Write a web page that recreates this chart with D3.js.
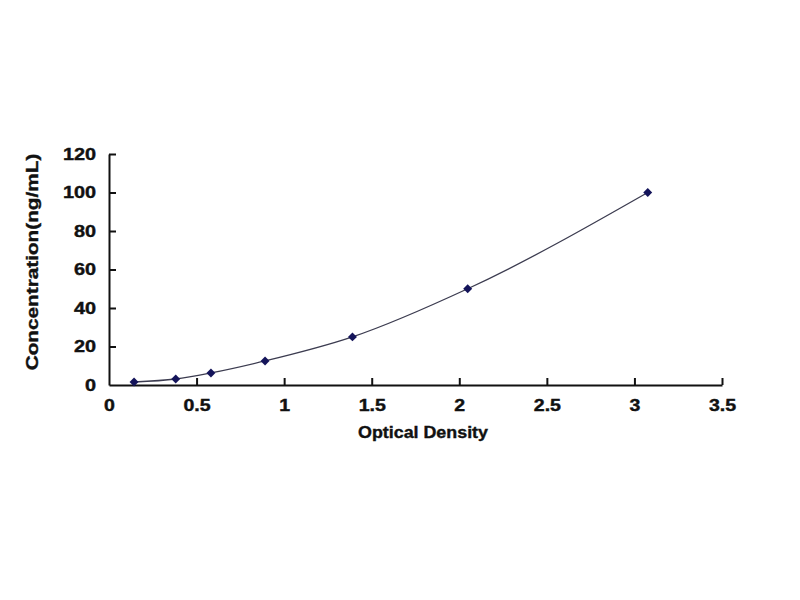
<!DOCTYPE html>
<html>
<head>
<meta charset="utf-8">
<script src="https://cdn.jsdelivr.net/npm/d3@7"></script>
<style>
  body { margin: 0; background: #fff; }
  text { font-family: "Liberation Sans", Arial, sans-serif; font-weight: bold; fill: #111; }
</style>
</head>
<body>
<div id="chart-area"></div>
<script>
// standard curve readings
var opticalDensity = [0.143, 0.381, 0.582, 0.891, 1.390, 2.048, 3.076];
var concentration = [1.56, 3.12, 6.25, 12.5, 25, 50, 100];
var xTicks = [0, 0.5, 1, 1.5, 2, 2.5, 3, 3.5];
var yTicks = [0, 20, 40, 60, 80, 100, 120];

var svgWidth = 800, svgHeight = 600;
var margin = { top: 154, right: 78, bottom: 215, left: 109 };
var chartWidth = svgWidth - margin.left - margin.right;
var chartHeight = svgHeight - margin.top - margin.bottom;

var svg = d3.select("#chart-area")
    .append("svg")
    .attr("width", svgWidth)
    .attr("height", svgHeight);

var chartGroup = svg.append("g")
    .attr("transform", "translate(" + margin.left + "," + margin.top + ")");

var xScale = d3.scaleLinear().domain([0, 3.5]).range([0, chartWidth]);
var yScale = d3.scaleLinear().domain([0, 120]).range([chartHeight, 0]);

// stretch text a bit like the original
function widen(sel, k) {
    sel.each(function() {
        var w = this.getComputedTextLength();
        d3.select(this).attr("textLength", w * k).attr("lengthAdjust", "spacingAndGlyphs");
    });
}

var leftAxis = d3.axisLeft(yScale)
    .tickValues(yTicks)
    .tickSizeInner(-7)
    .tickSizeOuter(0)
    .tickPadding(13)
    .tickFormat(d3.format("d"));

var botAxis = d3.axisBottom(xScale)
    .tickValues(xTicks)
    .tickSizeInner(-7)
    .tickSizeOuter(0)
    .tickPadding(15)
    .tickFormat(function(d) { return String(d); });

var yAxisG = chartGroup.append("g").call(leftAxis);
var xAxisG = chartGroup.append("g")
    .attr("transform", "translate(0," + chartHeight + ")")
    .call(botAxis);

[yAxisG, xAxisG].forEach(function(g) {
    g.select(".domain").attr("stroke", "#111").attr("stroke-width", 2);
    g.selectAll(".tick line").attr("stroke", "#111").attr("stroke-width", 2);
    g.selectAll(".tick text")
        .attr("font-family", "Liberation Sans, Arial, sans-serif")
        .attr("font-weight", "bold")
        .attr("font-size", 16)
        .attr("fill", "#111")
        .attr("stroke", "#111")
        .attr("stroke-width", 0.4);
});
xAxisG.selectAll(".tick").filter(function(d) { return d === 0; }).select("line").remove();
yAxisG.selectAll(".tick").filter(function(d) { return d === 0; }).select("line").remove();
widen(yAxisG.selectAll(".tick text"), 1.24);
widen(xAxisG.selectAll(".tick text"), 1.22);

var points = opticalDensity.map(function(x, i) { return { x: x, y: concentration[i] }; });

var line = d3.line()
    .x(function(d) { return xScale(d.x); })
    .y(function(d) { return yScale(d.y); })
    .curve(d3.curveMonotoneX);

chartGroup.append("path")
    .datum(points)
    .attr("d", line)
    .attr("fill", "none")
    .attr("stroke", "#3c3c50")
    .attr("stroke-width", 1.3);

chartGroup.selectAll(".marker")
    .data(points)
    .enter()
    .append("path")
    .attr("class", "marker")
    .attr("d", d3.symbol().type(d3.symbolSquare).size(40))
    .attr("transform", function(d) { return "translate(" + xScale(d.x) + "," + yScale(d.y) + ") rotate(45)"; })
    .attr("fill", "#14145a");

// axis titles
var xTitle = svg.append("text")
    .attr("x", 423)
    .attr("y", 438)
    .attr("text-anchor", "middle")
    .attr("font-size", 17)
    .attr("stroke", "#111")
    .attr("stroke-width", 0.4)
    .text("Optical Density");
widen(xTitle, 1.05);

var yTitle = svg.append("text")
    .attr("transform", "translate(38,262) rotate(-90)")
    .attr("text-anchor", "middle")
    .attr("font-size", 17)
    .attr("stroke", "#111")
    .attr("stroke-width", 0.4)
    .text("Concentration(ng/mL)");
widen(yTitle, 1.22);
</script>
</body>
</html>
